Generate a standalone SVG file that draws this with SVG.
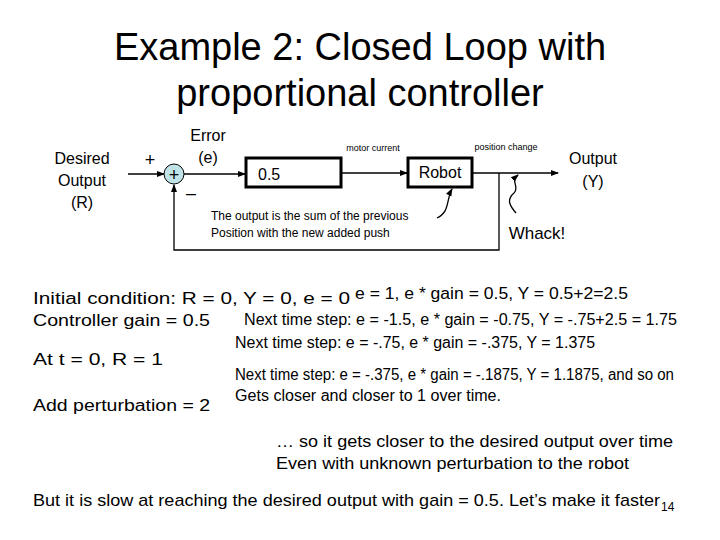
<svg xmlns="http://www.w3.org/2000/svg" width="720" height="540" viewBox="0 0 720 540">
<style>
text{font-family:"Liberation Sans",Arial,sans-serif;fill:#000}
.ln{stroke:#000;stroke-width:1.3;fill:none}
.bx{stroke:#000;stroke-width:3;fill:#fff}
</style>
<defs><marker id="a" markerWidth="8" markerHeight="8" refX="7" refY="4" orient="auto" markerUnits="userSpaceOnUse"><path d="M0,1 L8,4 L0,7 z" fill="#000"/></marker></defs>
<rect width="720" height="540" fill="#fff"/>
<text x="360" y="60" font-size="38" text-anchor="middle">Example 2: Closed Loop with</text>
<text x="360" y="106" font-size="38" text-anchor="middle">proportional controller</text>
<g id="connectors">
<line class="ln" x1="128" y1="174" x2="164" y2="174" marker-end="url(#a)"/>
<line class="ln" x1="184" y1="174" x2="245" y2="174" marker-end="url(#a)"/>
<line class="ln" x1="341" y1="173" x2="407" y2="173" marker-end="url(#a)"/>
<line class="ln" x1="472" y1="173" x2="558" y2="173" marker-end="url(#a)"/>
<polyline class="ln" points="499,173 499,250 174,250 174,185" marker-end="url(#a)"/>
<path class="ln" d="M437,218 C450,212 446,200 452,189" marker-end="url(#a)"/>
<path class="ln" d="M516,213 C510,206 506,200 514,193 C520,187 510,182 518,175" marker-end="url(#a)"/>
</g>
<g id="sum"><circle cx="174" cy="174" r="10" fill="#bfe3e6" stroke="#000" stroke-width="1"/><text x="174" y="181" font-size="18" text-anchor="middle">+</text></g>
<g id="gain"><rect class="bx" x="246" y="158" width="95" height="29"/><text x="258" y="180" font-size="16">0.5</text></g>
<g id="robot"><rect class="bx" x="408" y="158" width="64" height="29"/><text x="440" y="178" font-size="16" text-anchor="middle">Robot</text></g>
<g id="labels">
<text x="82" y="164" font-size="16" text-anchor="middle">Desired</text>
<text x="82" y="186" font-size="16" text-anchor="middle">Output</text>
<text x="82" y="208" font-size="16" text-anchor="middle">(R)</text>
<text x="150" y="166" font-size="18" text-anchor="middle">+</text>
<text x="191" y="199" font-size="18" text-anchor="middle">–</text>
<text x="208" y="141" font-size="16" text-anchor="middle">Error</text>
<text x="208" y="163" font-size="16" text-anchor="middle">(e)</text>
<text x="373" y="151" font-size="9" text-anchor="middle">motor current</text>
<text x="506" y="150" font-size="9" text-anchor="middle">position change</text>
<text x="593" y="164" font-size="16" text-anchor="middle">Output</text>
<text x="593" y="187" font-size="16" text-anchor="middle">(Y)</text>
<text x="211" y="220" font-size="12">The output is the sum of the previous</text>
<text x="211" y="237" font-size="12">Position with the new added push</text>
<text x="537" y="239" font-size="17" text-anchor="middle">Whack!</text>
</g>
<g font-size="16">
<text x="33" y="304" textLength="317" lengthAdjust="spacingAndGlyphs">Initial condition: R = 0, Y = 0, e = 0</text>
<text x="33" y="326" textLength="177" lengthAdjust="spacingAndGlyphs">Controller gain = 0.5</text>
<text x="33" y="365" textLength="130" lengthAdjust="spacingAndGlyphs">At t = 0, R = 1</text>
<text x="33" y="411" textLength="177" lengthAdjust="spacingAndGlyphs">Add perturbation = 2</text>
<text x="355" y="299" textLength="273" lengthAdjust="spacingAndGlyphs">e = 1, e * gain = 0.5, Y = 0.5+2=2.5</text>
<text x="244" y="325" textLength="433" lengthAdjust="spacingAndGlyphs">Next time step: e = -1.5, e * gain = -0.75, Y = -.75+2.5 = 1.75</text>
<text x="235" y="348" textLength="360" lengthAdjust="spacingAndGlyphs">Next time step: e = -.75, e * gain = -.375, Y = 1.375</text>
<text x="235" y="380" textLength="439" lengthAdjust="spacingAndGlyphs">Next time step: e = -.375, e * gain = -.1875, Y = 1.1875, and so on</text>
<text x="235" y="401" textLength="266" lengthAdjust="spacingAndGlyphs">Gets closer and closer to 1 over time.</text>
<text x="276" y="447" font-size="17" textLength="397" lengthAdjust="spacingAndGlyphs">… so it gets closer to the desired output over time</text>
<text x="276" y="469" font-size="17" textLength="353" lengthAdjust="spacingAndGlyphs">Even with unknown perturbation to the robot</text>
<text x="33" y="506" font-size="17" textLength="627" lengthAdjust="spacingAndGlyphs">But it is slow at reaching the desired output with gain = 0.5.  Let’s make it faster</text>
<text x="661" y="511" font-size="12">14</text>
</g>
</svg>
